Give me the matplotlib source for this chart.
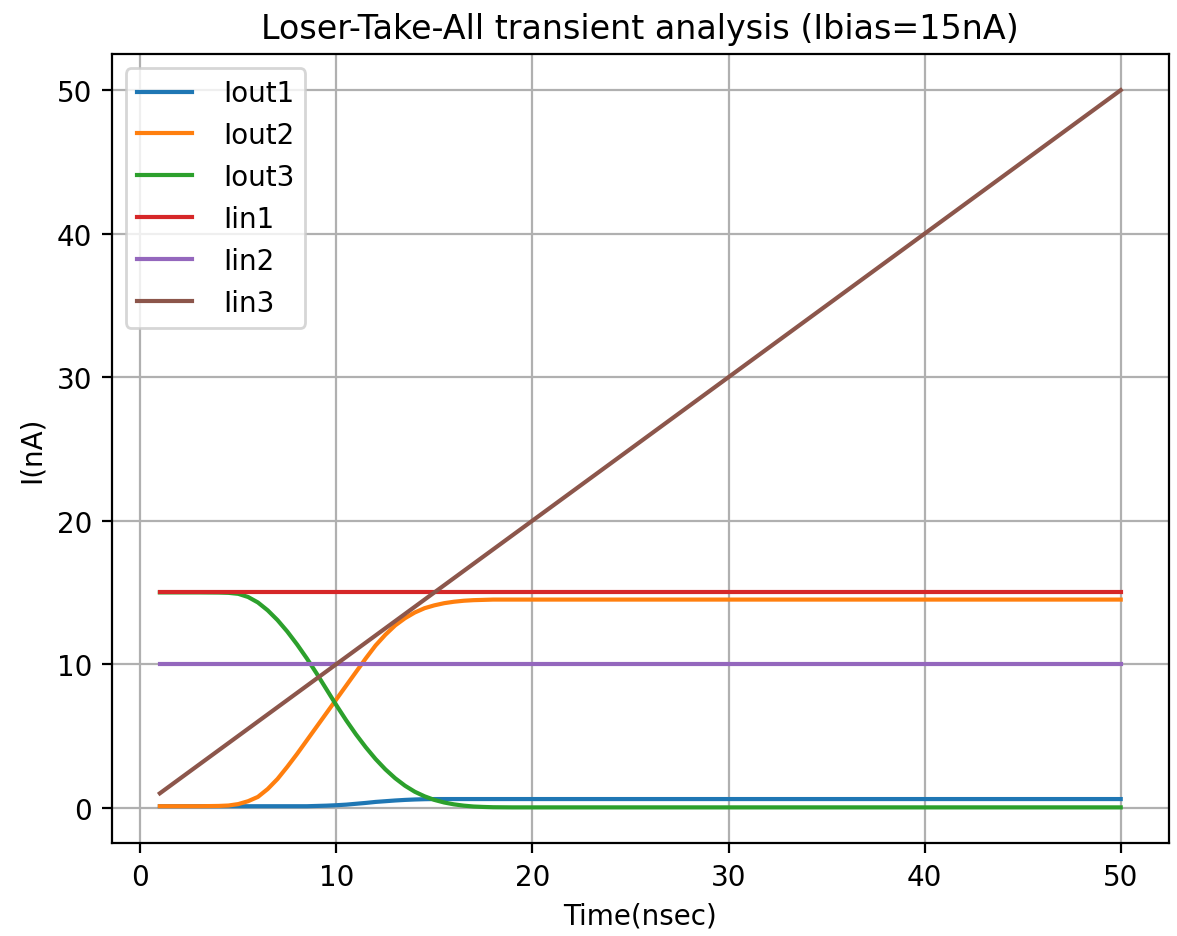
from matplotlib import pyplot as plt

# time points (nsec), finer steps through the switching region
time = [1, 2, 3, 4,
        4.5, 5, 5.5, 6, 6.5, 7, 7.5, 8, 8.5, 9, 9.5, 10, 10.5, 11,
        11.5, 12, 12.5, 13, 13.5, 14, 14.5, 15, 15.5, 16, 16.5, 17, 17.5, 18,
        19, 20, 21, 22, 23, 24, 25, 26, 27, 28, 29, 30, 31, 32, 33, 34,
        35, 36, 37, 38, 39, 40, 41, 42, 43, 44, 45, 46, 47, 48, 49, 50]

# input currents (nA)
iin1 = [15.0] * len(time)
iin2 = [10.0] * len(time)
iin3 = [1, 2, 3, 4,
        4.5, 5, 5.5, 6, 6.5, 7, 7.5, 8, 8.5, 9, 9.5, 10, 10.5, 11,
        11.5, 12, 12.5, 13, 13.5, 14, 14.5, 15, 15.5, 16, 16.5, 17, 17.5, 18,
        19, 20, 21, 22, 23, 24, 25, 26, 27, 28, 29, 30, 31, 32, 33, 34,
        35, 36, 37, 38, 39, 40, 41, 42, 43, 44, 45, 46, 47, 48, 49, 50]

# output currents (nA)
iout1 = [0.1, 0.1, 0.1, 0.1,
         0.1, 0.1, 0.1, 0.1, 0.1, 0.1, 0.1, 0.1, 0.1, 0.12, 0.14, 0.17, 0.21, 0.27,
         0.33, 0.4, 0.45, 0.5, 0.54, 0.57, 0.59, 0.6, 0.6, 0.6, 0.6, 0.6, 0.6, 0.6] + [0.6] * 32
iout2 = [0.1, 0.1, 0.1, 0.12,
         0.15, 0.25, 0.45, 0.75, 1.3, 2.0, 2.85, 3.75, 4.7, 5.65, 6.6, 7.55, 8.5, 9.45,
         10.4, 11.3, 12.05, 12.7, 13.2, 13.6, 13.9, 14.1, 14.25, 14.35, 14.42, 14.46, 14.48, 14.5] + [14.5] * 32
iout3 = [15.0, 15.0, 15.0, 14.99,
         14.97, 14.9, 14.68, 14.3, 13.75, 13.07, 12.27, 11.37, 10.39, 9.34, 8.24, 7.14, 6.09, 5.11,
         4.21, 3.39, 2.67, 2.05, 1.53, 1.11, 0.79, 0.54, 0.36, 0.23, 0.14, 0.08, 0.05, 0.03] + [0.02] * 32

plt.figure(figsize=(5.885, 4.685), dpi=200)
plt.plot(time, iout1, label='Iout1')
plt.plot(time, iout2, label='Iout2')
plt.plot(time, iout3, label='Iout3')
plt.plot(time, iin1, label='Iin1')
plt.plot(time, iin2, label='Iin2')
plt.plot(time, iin3, label='Iin3')
plt.title('Loser-Take-All transient analysis (Ibias=15nA)')
plt.xlabel('Time(nsec)')
plt.ylabel('I(nA)')
plt.grid(True)
plt.legend(handletextpad=1.1)
plt.subplots_adjust(left=0.095, right=0.993, top=0.941, bottom=0.099)
plt.savefig('out.png', dpi=200)
plt.close()
